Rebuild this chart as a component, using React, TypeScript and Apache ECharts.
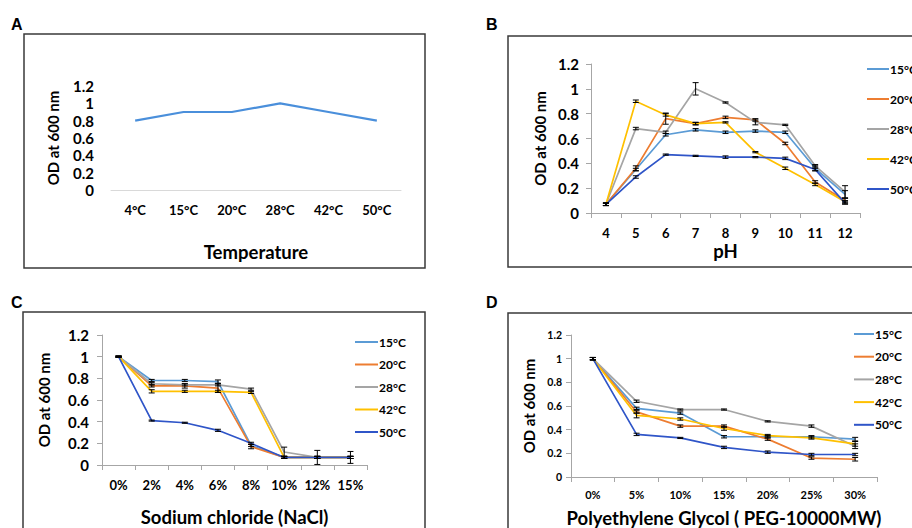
import React, { useEffect, useRef } from "react";
import * as echarts from "echarts";

const FONT = "Lato, 'Open Sans', sans-serif";

const seriesNames = ["15°C", "20°C", "28°C", "42°C", "50°C"];
const seriesColors = ["#5B9BD5", "#ED7D31", "#A5A5A5", "#FFC000", "#2F55C8"];
const yTicks = [0, 0.2, 0.4, 0.6, 0.8, 1, 1.2];

// Panel A
const tempCats = ["4°C", "15°C", "20°C", "28°C", "42°C", "50°C"];
const tempOD = [0.8, 0.9, 0.9, 1.0, 0.9, 0.8];

// Panel B
const phCats = ["4", "5", "6", "7", "8", "9", "10", "11", "12"];
const ph15 = [0.07, 0.35, 0.63, 0.67, 0.65, 0.66, 0.65, 0.36, 0.15];
const ph20 = [0.07, 0.36, 0.76, 0.72, 0.77, 0.75, 0.56, 0.25, 0.1];
const ph28 = [0.07, 0.68, 0.65, 1.0, 0.89, 0.73, 0.71, 0.38, 0.17];
const ph42 = [0.07, 0.9, 0.79, 0.72, 0.73, 0.49, 0.36, 0.23, 0.09];
const ph50 = [0.07, 0.29, 0.47, 0.46, 0.45, 0.45, 0.44, 0.35, 0.08];
const phErr15 = [0.01, 0.01, 0.01, 0.01, 0.01, 0.01, 0.01, 0.02, 0.03];
const phErr20 = [0.01, 0.02, 0.045, 0.01, 0.01, 0.01, 0.01, 0.01, 0.02];
const phErr28 = [0.01, 0.01, 0.01, 0.05, 0.005, 0.02, 0.005, 0.01, 0.05];
const phErr42 = [0.01, 0.01, 0.01, 0.01, 0.005, 0.005, 0.01, 0.01, 0.01];
const phErr50 = [0.01, 0.01, 0.005, 0.005, 0.01, 0.005, 0.01, 0.01, 0.01];

// Panel C
const naCats = ["0%", "2%", "4%", "6%", "8%", "10%", "12%", "15%"];
const na15 = [1.0, 0.78, 0.78, 0.77, 0.18, 0.07, 0.07, 0.07];
const na20 = [1.0, 0.73, 0.73, 0.71, 0.17, 0.07, 0.07, 0.07];
const na28 = [1.0, 0.75, 0.74, 0.74, 0.7, 0.12, 0.07, 0.07];
const na42 = [1.0, 0.68, 0.68, 0.68, 0.67, 0.07, 0.07, 0.07];
const na50 = [1.0, 0.41, 0.39, 0.32, 0.2, 0.07, 0.07, 0.07];
const naErr15 = [0.005, 0.01, 0.01, 0.015, 0.01, 0.01, 0.01, 0.01];
const naErr20 = [0.005, 0.01, 0.02, 0.04, 0.02, 0.01, 0.01, 0.01];
const naErr28 = [0.005, 0.01, 0.01, 0.01, 0.01, 0.045, 0.065, 0.055];
const naErr42 = [0.005, 0.015, 0.01, 0.01, 0.01, 0.01, 0.01, 0.01];
const naErr50 = [0.005, 0.005, 0.005, 0.01, 0.01, 0.01, 0.01, 0.01];

// Panel D
const pegCats = ["0%", "5%", "10%", "15%", "20%", "25%", "30%"];
const peg15 = [1.0, 0.58, 0.54, 0.34, 0.34, 0.34, 0.32];
const peg20 = [1.0, 0.55, 0.43, 0.43, 0.32, 0.16, 0.15];
const peg28 = [1.0, 0.64, 0.57, 0.57, 0.47, 0.43, 0.26];
const peg42 = [1.0, 0.52, 0.49, 0.41, 0.35, 0.33, 0.28];
const peg50 = [1.0, 0.36, 0.33, 0.25, 0.21, 0.19, 0.19];
const pegErr15 = [0.01, 0.01, 0.01, 0.01, 0.01, 0.01, 0.015];
const pegErr20 = [0.01, 0.01, 0.01, 0.01, 0.01, 0.01, 0.015];
const pegErr28 = [0.01, 0.01, 0.005, 0.005, 0.005, 0.01, 0.02];
const pegErr42 = [0.01, 0.02, 0.01, 0.015, 0.01, 0.01, 0.02];
const pegErr50 = [0.01, 0.01, 0.005, 0.01, 0.01, 0.01, 0.01];

const panelB = [ph15, ph20, ph28, ph42, ph50];
const panelBErr = [phErr15, phErr20, phErr28, phErr42, phErr50];
const panelC = [na15, na20, na28, na42, na50];
const panelCErr = [naErr15, naErr20, naErr28, naErr42, naErr50];
const panelD = [peg15, peg20, peg28, peg42, peg50];
const panelDErr = [pegErr15, pegErr20, pegErr28, pegErr42, pegErr50];

const errorRender = (params: any, api: any) => {
  const x = api.value(0);
  const y = api.value(1);
  const e = api.value(2);
  const top = api.coord([x, y + e]);
  const bot = api.coord([x, y - e]);
  const hw = 3;
  const st = { stroke: "#000", lineWidth: 1 };
  return {
    type: "group",
    children: [
      { type: "line", shape: { x1: top[0], y1: top[1], x2: bot[0], y2: bot[1] }, style: st },
      { type: "line", shape: { x1: top[0] - hw, y1: top[1], x2: top[0] + hw, y2: top[1] }, style: st },
      { type: "line", shape: { x1: bot[0] - hw, y1: bot[1], x2: bot[0] + hw, y2: bot[1] }, style: st },
    ],
  };
};

function makePanelSeries(idx: number, values: number[][], errs: number[][]) {
  const out: any[] = [];
  values.forEach((vals, i) => {
    out.push({
      type: "line",
      name: seriesNames[i],
      xAxisIndex: idx,
      yAxisIndex: idx,
      data: vals,
      showSymbol: false,
      symbol: "none",
      color: seriesColors[i],
      lineStyle: { color: seriesColors[i], width: 1.7 },
      z: 2,
    });
  });
  const errData: any[] = [];
  values.forEach((vals, i) => {
    vals.forEach((v, j) => errData.push([j, v, errs[i][j]]));
  });
  out.push({
    type: "custom",
    xAxisIndex: idx,
    yAxisIndex: idx,
    renderItem: errorRender,
    data: errData,
    encode: { x: 0, y: 1 },
    z: 3,
    silent: true,
  });
  return out;
}

const boldText = (size: number) => ({
  fontFamily: FONT,
  fontWeight: "bold" as const,
  fontSize: size,
  color: "#000",
});

function xAxisFor(idx: number, cats: string[], labelSize: number, margin: number, name: string, nameGap: number, plain: boolean) {
  return {
    type: "category",
    gridIndex: idx,
    data: cats,
    boundaryGap: true,
    axisLine: { show: true, lineStyle: { color: plain ? "#d9d9d9" : "#a6a6a6", width: 1 } },
    axisTick: { show: !plain, length: 5, interval: 0, lineStyle: { color: "#a6a6a6" } },
    axisLabel: { ...boldText(labelSize), margin, interval: 0 },
    name,
    nameLocation: "middle",
    nameGap,
    nameTextStyle: boldText(18.5),
    splitLine: { show: false },
  };
}

function yAxisFor(idx: number, labelSize: number, margin: number, nameGap: number, plain: boolean) {
  return {
    type: "value",
    gridIndex: idx,
    min: 0,
    max: yTicks[yTicks.length - 1],
    interval: 0.2,
    axisLine: { show: !plain, lineStyle: { color: "#a6a6a6", width: 1 } },
    axisTick: { show: !plain, length: 5, lineStyle: { color: "#a6a6a6" } },
    axisLabel: { ...boldText(labelSize), margin },
    splitLine: { show: false },
    name: "OD at 600 nm",
    nameLocation: "middle",
    nameGap,
    nameRotate: 90,
    nameTextStyle: boldText(15),
  };
}

function legendFor(left: number, top: number, gap: number, width: number) {
  return {
    data: seriesNames,
    orient: "vertical",
    left,
    top,
    padding: 0,
    itemWidth: width,
    itemHeight: 2,
    itemGap: gap,
    icon: "rect",
    selectedMode: false,
    textStyle: { ...boldText(12), lineHeight: 14, padding: [0, 0, 0, -4] },
  };
}

export default function App() {
  const ref = useRef<HTMLDivElement>(null);
  useEffect(() => {
    if (!ref.current) return;
    const chart = echarts.init(ref.current, null, { renderer: "svg" });
    const frameStyle = { fill: "none", stroke: "#3a3a3a", lineWidth: 1.5 };
    const letterFont = "bold 16px 'Liberation Sans', Arial, sans-serif";
    const option: any = {
      animation: false,
      backgroundColor: "#fff",
      grid: [
        { left: 111, top: 86, width: 290, height: 104, outerBoundsMode: "none" },
        { left: 591, top: 64, width: 269, height: 149, outerBoundsMode: "none" },
        { left: 102, top: 335, width: 265, height: 130, outerBoundsMode: "none" },
        { left: 571, top: 335, width: 306, height: 142, outerBoundsMode: "none" },
      ],
      xAxis: [
        xAxisFor(0, tempCats, 13, 13, "Temperature", 52, true),
        xAxisFor(1, phCats, 13, 13, "pH", 28, false),
        xAxisFor(2, naCats, 13, 13, "Sodium chloride (NaCl)", 42, false),
        xAxisFor(3, pegCats, 11, 12, "Polyethylene Glycol ( PEG-10000MW)", 31, false),
      ],
      yAxis: [
        yAxisFor(0, 15, 17, 51, true),
        yAxisFor(1, 15, 12, 44, false),
        yAxisFor(2, 15, 13, 51, false),
        yAxisFor(3, 10.5, 9, 35, false),
      ],
      legend: [
        legendFor(867, 62, 16, 22),
        legendFor(355, 335, 8.5, 23),
        legendFor(854, 327, 8.7, 20),
      ],
      graphic: [
        { type: "rect", shape: { x: 24, y: 34, width: 401, height: 234 }, style: frameStyle, z: 0 },
        { type: "rect", shape: { x: 508, y: 36, width: 420, height: 231 }, style: frameStyle, z: 0 },
        { type: "rect", shape: { x: 23, y: 312, width: 402, height: 240 }, style: frameStyle, z: 0 },
        { type: "rect", shape: { x: 508, y: 313, width: 420, height: 240 }, style: frameStyle, z: 0 },
        { type: "text", x: 11, y: 16, style: { text: "A", font: letterFont, fill: "#000" } },
        { type: "text", x: 486, y: 16, style: { text: "B", font: letterFont, fill: "#000" } },
        { type: "text", x: 11, y: 294, style: { text: "C", font: letterFont, fill: "#000" } },
        { type: "text", x: 486, y: 294, style: { text: "D", font: letterFont, fill: "#000" } },
      ],
      series: [
        {
          type: "line",
          name: "Temperature",
          xAxisIndex: 0,
          yAxisIndex: 0,
          data: tempOD,
          showSymbol: false,
          symbol: "none",
          lineStyle: { color: "#4A8FDB", width: 2.2 },
          color: "#4A8FDB",
        },
        ...makePanelSeries(1, panelB, panelBErr),
        ...makePanelSeries(2, panelC, panelCErr),
        ...makePanelSeries(3, panelD, panelDErr),
      ],
    };
    chart.setOption(option);
    return () => chart.dispose();
  }, []);
  return (
    <div
      ref={ref}
      style={{ position: "absolute", left: 0, top: 0, width: 912, height: 528, background: "#fff" }}
    />
  );
}
